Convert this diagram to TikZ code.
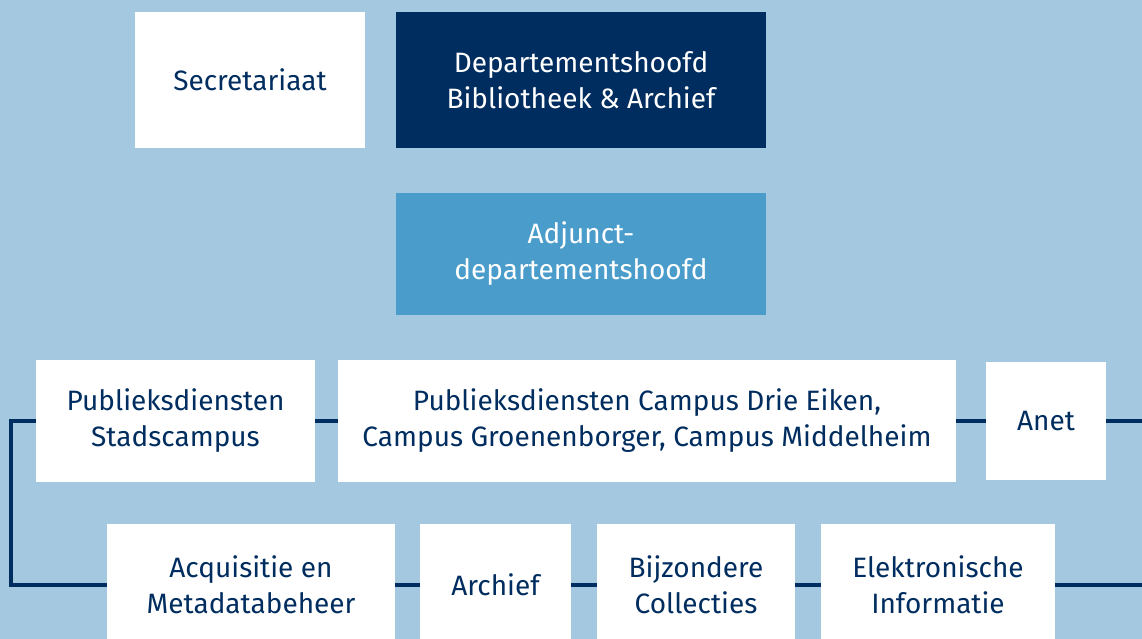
\documentclass[tikz,border=0pt]{standalone}
\usepackage{fontspec}
\setmainfont{Fira Sans}
\definecolor{bgblue}{HTML}{A5C8E1}
\definecolor{navy}{HTML}{002D5F}
\definecolor{midblue}{HTML}{4A9CCB}
\tikzset{
  box/.style={rectangle, fill=white, text=navy, align=center, inner sep=0pt,
    font=\fontsize{28}{36}\selectfont},
  darkbox/.style={box, fill=navy, text=white},
  midbox/.style={box, fill=midblue, text=white},
  conn/.style={draw=navy, line width=4pt, line cap=butt, line join=miter}
}
\begin{document}
\begin{tikzpicture}[x=1pt,y=-1pt]
\useasboundingbox (0,0) rectangle (1142,639);
\clip (0,0) rectangle (1142,639);
\fill[bgblue] (0,0) rectangle (1142,639);
% top
\node[box, minimum width=230pt, minimum height=136pt] (sec) at (250,80) {Secretariaat};
\node[darkbox, minimum width=370pt, minimum height=136pt] (dh) at (581,80) {Departementshoofd\\Bibliotheek \& Archief};
\node[midbox, minimum width=370pt, minimum height=122pt] (adj) at (581,254) {Adjunct-\\departementshoofd};
% row 1
\node[box, minimum width=279pt, minimum height=122pt] (ps) at (175.5,421) {Publieksdiensten\\Stadscampus};
\node[box, minimum width=618pt, minimum height=122pt] (pc) at (647,421) {Publieksdiensten Campus Drie Eiken,\\Campus Groenenborger, Campus Middelheim};
\node[box, minimum width=120pt, minimum height=118pt] (an) at (1046,421) {Anet};
% row 2
\node[box, minimum width=288pt, minimum height=122pt] (aq) at (251,585) {Acquisitie en\\Metadatabeheer};
\node[box, minimum width=151pt, minimum height=122pt] (ar) at (495.5,585) {Archief};
\node[box, minimum width=198pt, minimum height=122pt] (bc) at (696,585) {Bijzondere\\Collecties};
\node[box, minimum width=234pt, minimum height=122pt] (ei) at (938,585) {Elektronische\\Informatie};
% free ends
\coordinate (lt) at (11,421);
\coordinate (r1) at (1142,421);
\coordinate (r2) at (1142,585);
% connectors
\draw[conn] (ps.west) -- (lt) |- (aq.west);
\draw[conn] (ps.east) -- (pc.west);
\draw[conn] (pc.east) -- (an.west);
\draw[conn] (an.east) -- (r1);
\draw[conn] (aq.east) -- (ar.west);
\draw[conn] (ar.east) -- (bc.west);
\draw[conn] (bc.east) -- (ei.west);
\draw[conn] (ei.east) -- (r2);
\end{tikzpicture}
\end{document}
